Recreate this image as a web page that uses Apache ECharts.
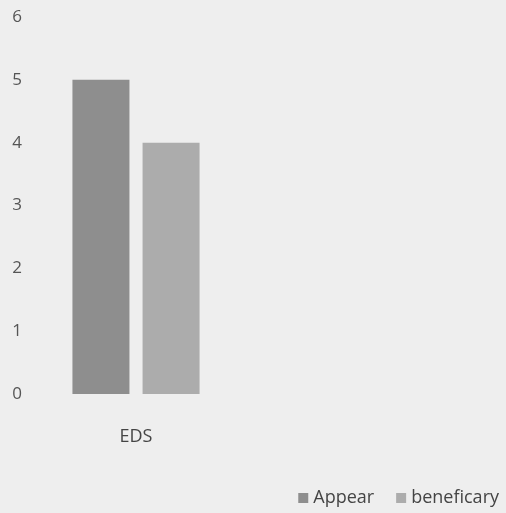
<!DOCTYPE html>
<html>
<head>
<meta charset="utf-8">
<script src="https://cdn.jsdelivr.net/npm/echarts@6/dist/echarts.min.js"></script>
<style>
  html, body { margin: 0; padding: 0; background: #eeeeee; }
  #chart { width: 506px; height: 513px; }
</style>
</head>
<body>
<div id="chart"></div>
<script>
// Categories and series values
const categories = ['EDS'];
const appearValues = [5];
const beneficaryValues = [4];
const yTicks = [0, 1, 2, 3, 4, 5, 6];

const chart = echarts.init(document.getElementById('chart'));
const font = '"Open Sans", "Liberation Sans", sans-serif';

chart.setOption({
  backgroundColor: '#eeeeee',
  animation: false,
  textStyle: { fontFamily: font },
  grid: { left: 30, top: 17, width: 212, bottom: 119 },
  legend: {
    right: 2,
    bottom: 1,
    itemWidth: 10,
    itemHeight: 10,
    itemGap: 22,
    icon: 'rect',
    textStyle: { fontSize: 18, color: '#444', fontFamily: font },
    data: ['Appear', 'beneficary']
  },
  xAxis: {
    type: 'category',
    data: categories,
    axisLine: { show: false },
    axisTick: { show: false },
    axisLabel: { fontSize: 18, color: '#444', margin: 34, fontFamily: font }
  },
  yAxis: {
    type: 'value',
    min: yTicks[0],
    max: yTicks[yTicks.length - 1],
    interval: 1,
    splitLine: { show: false },
    axisLine: { show: false },
    axisTick: { show: false },
    axisLabel: { fontSize: 17, color: '#555', margin: 8, fontFamily: font }
  },
  series: [
    {
      name: 'Appear',
      type: 'bar',
      data: appearValues,
      barWidth: 57,
      barGap: '23%',
      itemStyle: { color: '#8e8e8e' }
    },
    {
      name: 'beneficary',
      type: 'bar',
      data: beneficaryValues,
      barWidth: 57,
      itemStyle: { color: '#acacac' }
    }
  ]
});
</script>
</body>
</html>
